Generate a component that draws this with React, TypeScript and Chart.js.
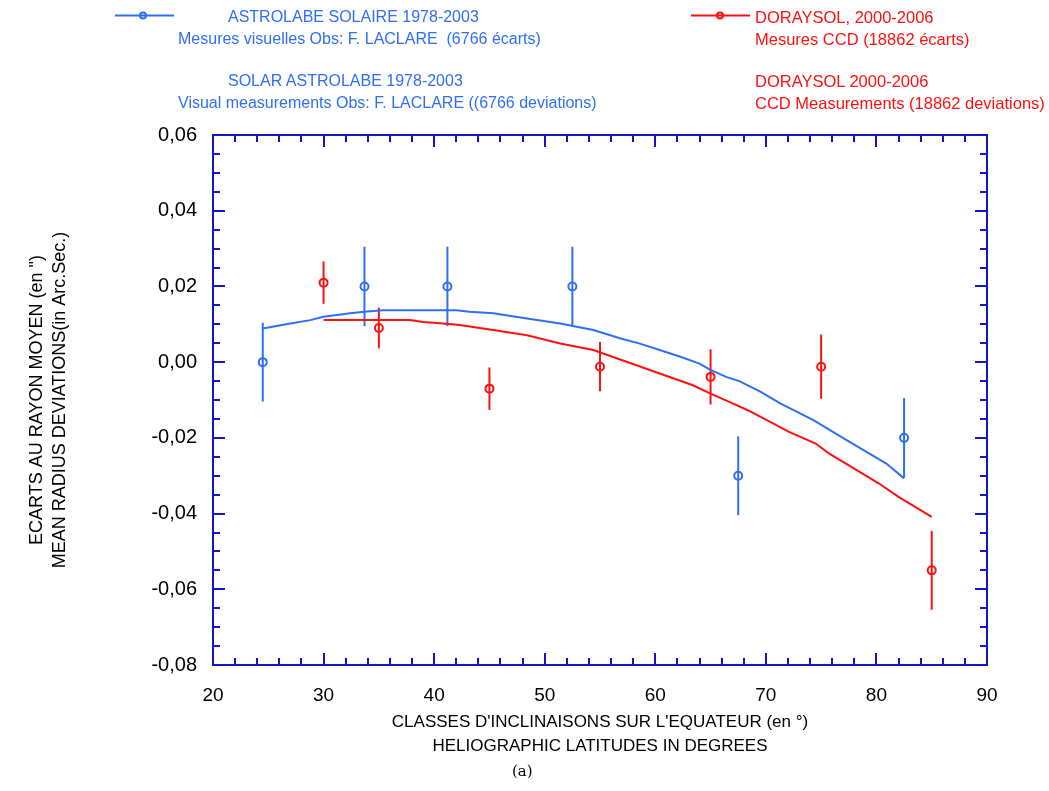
import React, { useEffect, useRef } from "react";
import { Chart, registerables } from "chart.js";

Chart.register(...registerables);

// ---- data ----
const astroX = [24.5, 33.7, 41.2, 52.5, 67.5, 82.5];
const astroY = [0.0, 0.02, 0.02, 0.02, -0.03, -0.02];
const astroErr = [0.0104, 0.0105, 0.0105, 0.0105, 0.0104, 0.0105];

const dorayX = [30, 35, 45, 55, 65, 75, 85];
const dorayY = [0.021, 0.009, -0.007, -0.0012, -0.0039, -0.0012, -0.055];
const dorayErr = [0.0056, 0.0054, 0.0056, 0.0065, 0.0073, 0.0085, 0.0104];

const astroCurveX = [24.5, 27.0, 28.8, 30.0, 32.4, 33.7, 35.4, 42.0, 43.2, 45.35, 48.4, 51.4, 54.4, 56.8, 58.6, 60.4, 62.2, 64.0, 64.9, 66.4, 67.6, 69.5, 71.3, 74.3, 77.3, 79.1, 80.9, 82.5];
const astroCurveY = [0.0089, 0.0102, 0.0111, 0.012, 0.0129, 0.0133, 0.0137, 0.0137, 0.0133, 0.0129, 0.0115, 0.0102, 0.0085, 0.0063, 0.0049, 0.0032, 0.0015, -0.0004, -0.0019, -0.0039, -0.005, -0.0078, -0.0109, -0.0153, -0.0206, -0.0237, -0.0268, -0.0307];

const dorayCurveX = [30, 33, 37.8, 39.0, 40.8, 42.3, 45.35, 48.4, 51.4, 54.4, 57.4, 60.4, 63.4, 64.9, 66.7, 68.5, 72.1, 74.5, 75.7, 78.7, 80.2, 82.0, 85.0];
const dorayCurveY = [0.0111, 0.0111, 0.0111, 0.0106, 0.0102, 0.0098, 0.0085, 0.0071, 0.0049, 0.0032, 0.0001, -0.003, -0.0061, -0.0082, -0.0105, -0.0129, -0.0184, -0.0215, -0.0241, -0.0294, -0.032, -0.0356, -0.0409];

const xTitle = ["CLASSES D'INCLINAISONS SUR L'EQUATEUR (en °)", "HELIOGRAPHIC LATITUDES IN DEGREES"];
const yTitle = ['ECARTS AU RAYON MOYEN (en ")', "MEAN RADIUS DEVIATIONS(in Arc.Sec.)"];

const astroLegend = ["ASTROLABE SOLAIRE 1978-2003", "Mesures visuelles Obs: F. LACLARE  (6766 écarts)", "SOLAR ASTROLABE 1978-2003", "Visual measurements Obs: F. LACLARE ((6766 deviations)"];
const dorayLegend = ["DORAYSOL, 2000-2006", "Mesures CCD (18862 écarts)", "DORAYSOL 2000-2006", "CCD Measurements (18862 deviations)"];

const BLUE = "#2f6ff4";
const RED = "#ff1010";
const FRAME = "#1515c8";
const FONT = '"Liberation Sans", Arial, sans-serif';

const zip = (xs: number[], ys: number[]) => xs.map((x, i) => ({ x, y: ys[i] }));

const errorBarPlugin = {
  id: "errorBars",
  beforeDatasetsDraw(chart: any) {
    const { ctx, scales } = chart;
    const xs = scales.x;
    const ys = scales.y;
    const draw = (X: number[], Y: number[], E: number[], color: string) => {
      ctx.save();
      ctx.strokeStyle = color;
      ctx.lineWidth = 2;
      X.forEach((x, i) => {
        const px = xs.getPixelForValue(x);
        ctx.beginPath();
        ctx.moveTo(px, ys.getPixelForValue(Y[i] + E[i]));
        ctx.lineTo(px, ys.getPixelForValue(Y[i] - E[i]));
        ctx.stroke();
      });
      ctx.restore();
    };
    draw(astroX, astroY, astroErr, BLUE);
    draw(dorayX, dorayY, dorayErr, RED);
  },
};

const framePlugin = {
  id: "frame",
  afterDraw(chart: any) {
    const { ctx, chartArea: a, scales } = chart;
    const xs = scales.x;
    const ys = scales.y;
    ctx.save();
    ctx.strokeStyle = FRAME;
    ctx.lineWidth = 2;
    ctx.strokeRect(a.left, a.top, a.right - a.left, a.bottom - a.top);
    const major = 12;
    const minor = 7;
    // x ticks (top & bottom)
    for (let v = xs.min; v <= xs.max + 1e-9; v += 2) {
      const isMajor = Math.abs(v / 10 - Math.round(v / 10)) < 1e-6;
      const L = isMajor ? major : minor;
      const px = Math.round(xs.getPixelForValue(v));
      ctx.beginPath();
      ctx.moveTo(px, a.bottom);
      ctx.lineTo(px, a.bottom - L);
      ctx.moveTo(px, a.top);
      ctx.lineTo(px, a.top + L);
      ctx.stroke();
    }
    // y ticks (left & right)
    for (let k = 0; k <= Math.round((ys.max - ys.min) / 0.005); k++) {
      const v = ys.min + k * 0.005;
      const isMajor = k % 4 === 0;
      const L = isMajor ? major : minor;
      const py = Math.round(ys.getPixelForValue(v));
      ctx.beginPath();
      ctx.moveTo(a.left, py);
      ctx.lineTo(a.left + L, py);
      ctx.moveTo(a.right, py);
      ctx.lineTo(a.right - L, py);
      ctx.stroke();
    }
    ctx.restore();
  },
};

export default function App() {
  const canvasRef = useRef<HTMLCanvasElement>(null);

  useEffect(() => {
    Chart.defaults.font.family = FONT;
    const chart = new Chart(canvasRef.current as HTMLCanvasElement, {
      type: "scatter",
      data: {
        datasets: [
          {
            data: zip(astroCurveX, astroCurveY),
            showLine: true,
            borderColor: BLUE,
            borderWidth: 2,
            pointRadius: 0,
            fill: false,
          },
          {
            data: zip(dorayCurveX, dorayCurveY),
            showLine: true,
            borderColor: RED,
            borderWidth: 2,
            pointRadius: 0,
            fill: false,
          },
          {
            data: zip(astroX, astroY),
            showLine: false,
            borderColor: BLUE,
            backgroundColor: "rgba(255,255,255,0)",
            pointRadius: 4,
            pointBorderWidth: 2,
          },
          {
            data: zip(dorayX, dorayY),
            showLine: false,
            borderColor: RED,
            backgroundColor: "rgba(255,255,255,0)",
            pointRadius: 4,
            pointBorderWidth: 2,
          },
        ],
      } as any,
      options: {
        animation: false,
        responsive: false,
        layout: { padding: { top: 135, right: 62, left: 0, bottom: 0 } },
        plugins: {
          legend: { display: false },
          tooltip: { enabled: false },
        },
        scales: {
          x: {
            type: "linear",
            min: 20,
            max: 90,
            grid: { display: false, drawTicks: false },
            border: { display: false },
            ticks: {
              stepSize: 10,
              color: "#000",
              font: { size: 19, family: FONT },
              padding: 19,
            },
            title: {
              display: true,
              text: xTitle,
              color: "#000",
              font: { size: 17, family: FONT, lineHeight: "24px" },
              padding: { top: 0, bottom: 33 },
            },
            afterFit: (s: any) => {
              s.height = 126;
            },
          },
          y: {
            type: "linear",
            min: -0.08,
            max: 0.06,
            grid: { display: false, drawTicks: false },
            border: { display: false },
            ticks: {
              stepSize: 0.02,
              color: "#000",
              font: { size: 20, family: FONT },
              padding: 16,
              callback: (v: any) => {
                const n = Number(v);
                if (Math.abs(n) < 1e-9) return "0,00";
                return n.toFixed(2).replace(".", ",");
              },
            },
            title: {
              display: true,
              text: yTitle,
              color: "#000",
              font: { size: 18, family: FONT, lineHeight: "23px" },
              padding: { top: 26, bottom: 0 },
            },
            afterFit: (s: any) => {
              s.width = 213;
            },
          },
        },
      } as any,
      plugins: [errorBarPlugin, framePlugin],
    });
    return () => chart.destroy();
  }, []);

  const textStyle = (left: number, centerY: number, color: string, size: number): React.CSSProperties => ({
    position: "absolute",
    left,
    top: centerY - 10,
    fontSize: size,
    lineHeight: "20px",
    whiteSpace: "pre",
    color,
    fontFamily: FONT,
  });

  return (
    <div style={{ position: "fixed", left: 0, top: 0, width: 1049, height: 791, background: "#fff", overflow: "hidden" }}>
      <canvas ref={canvasRef} width={1049} height={791} style={{ position: "absolute", left: 0, top: 0, width: 1049, height: 791 }} />
      <svg style={{ position: "absolute", left: 0, top: 0 }} width={1049} height={30}>
        <line x1={115} y1={15.5} x2={174} y2={15.5} stroke={BLUE} strokeWidth={2} />
        <circle cx={143} cy={15.5} r={3} fill="none" stroke={BLUE} strokeWidth={2} />
        <line x1={691} y1={15.5} x2={750} y2={15.5} stroke={RED} strokeWidth={2} />
        <circle cx={720} cy={15.5} r={3} fill="none" stroke={RED} strokeWidth={2} />
      </svg>
      <div style={textStyle(228, 17, BLUE, 16)}>{astroLegend[0]}</div>
      <div style={textStyle(178, 39, BLUE, 16)}>{astroLegend[1]}</div>
      <div style={textStyle(228, 81, BLUE, 16)}>{astroLegend[2]}</div>
      <div style={textStyle(178, 103, BLUE, 16)}>{astroLegend[3]}</div>
      <div style={textStyle(755, 17, RED, 16.5)}>{dorayLegend[0]}</div>
      <div style={textStyle(755, 39, RED, 16.5)}>{dorayLegend[1]}</div>
      <div style={textStyle(755, 81, RED, 16.5)}>{dorayLegend[2]}</div>
      <div style={textStyle(755, 103, RED, 16.5)}>{dorayLegend[3]}</div>
      <div
        style={{
          position: "absolute",
          left: 512,
          top: 762,
          fontSize: 15,
          lineHeight: "18px",
          fontFamily: '"DejaVu Serif", "Liberation Serif", serif',
          color: "#000",
        }}
      >
        (a)
      </div>
    </div>
  );
}
